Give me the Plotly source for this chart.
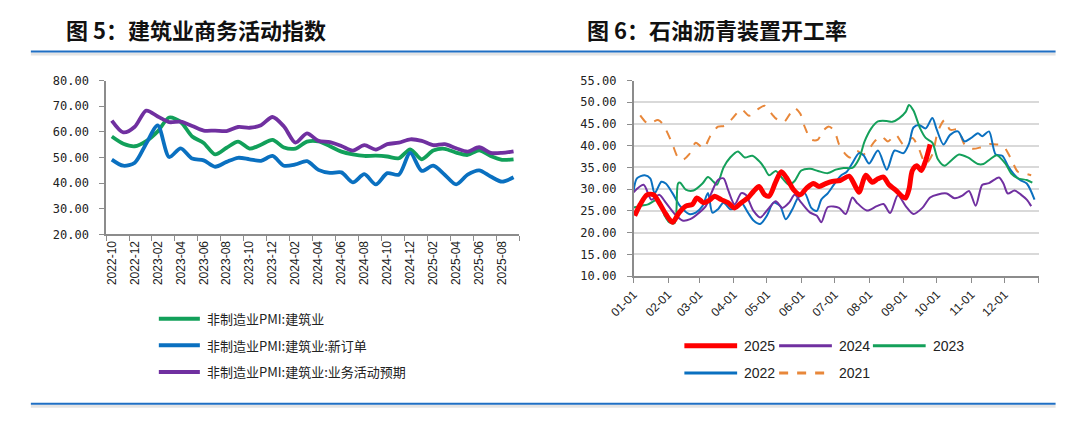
import plotly.graph_objects as go

W, H = 1080, 437

# ---------------- Left chart data (monthly) ----------------
months = ["2022-10", "2022-11", "2022-12", "2023-01", "2023-02", "2023-03", "2023-04",
          "2023-05", "2023-06", "2023-07", "2023-08", "2023-09", "2023-10", "2023-11",
          "2023-12", "2024-01", "2024-02", "2024-03", "2024-04", "2024-05", "2024-06",
          "2024-07", "2024-08", "2024-09", "2024-10", "2024-11", "2024-12", "2025-01",
          "2025-02", "2025-03", "2025-04", "2025-05", "2025-06", "2025-07", "2025-08",
          "2025-09"]
pmi_construction = [58.2, 55.4, 54.4, 56.4, 60.2, 65.6, 63.9, 58.2, 55.7, 51.2, 53.8, 56.2,
                    53.5, 55.0, 56.9, 53.9, 53.5, 56.2, 56.3, 54.4, 52.3, 51.2, 50.6, 50.7,
                    50.4, 49.7, 53.2, 49.3, 52.7, 53.4, 51.9, 51.0, 52.8, 50.6, 49.1, 49.3]
pmi_new_orders = [49.2, 46.8, 48.0, 55.5, 62.5, 50.2, 53.6, 49.6, 48.9, 46.4, 48.3, 49.9,
                  49.3, 48.7, 50.6, 46.8, 47.3, 48.6, 45.2, 44.0, 44.2, 40.3, 43.5, 39.5,
                  43.9, 43.3, 51.8, 44.8, 46.8, 43.3, 39.5, 43.3, 45.0, 42.6, 40.6, 42.3]
pmi_expectation = [64.4, 59.8, 62.0, 68.3, 66.0, 63.8, 64.0, 62.3, 60.5, 60.5, 60.3, 61.9,
                   61.6, 62.6, 65.8, 62.1, 55.8, 59.4, 56.5, 56.0, 54.5, 52.7, 54.8, 53.1,
                   55.2, 55.8, 57.1, 56.5, 54.8, 55.2, 53.6, 52.3, 54.0, 51.8, 51.8, 52.4]
left_names = ["非制造业PMI:建筑业", "非制造业PMI:建筑业:新订单", "非制造业PMI:建筑业:业务活动预期"]
left_colors = ["#12A05A", "#0A70C0", "#7030A0"]
left_ticks = [20, 30, 40, 50, 60, 70, 80]

# ---------------- Right chart data (weekly, month-day) ----------------
md_2021 = ["01-07", "01-14", "01-23", "01-27", "02-04", "02-10", "02-14", "02-20", "02-26",
           "03-05", "03-11", "03-18", "03-24", "03-31", "04-08", "04-15", "04-24", "04-29",
           "05-03", "05-09", "05-16", "05-22", "05-26", "05-31", "06-04", "06-10", "06-16",
           "06-20", "06-26", "07-01", "07-05", "07-11", "07-15", "07-21", "07-27", "08-02",
           "08-06", "08-12", "08-18", "08-25", "09-01", "09-09", "09-15", "09-21", "09-27",
           "10-02", "10-08", "10-13", "10-20", "10-26", "11-02", "11-09", "11-17", "11-24",
           "11-30", "12-07", "12-13", "12-19", "12-25"]
v_2021 = [47.0, 45.1, 45.9, 45.1, 41.0, 37.3, 36.7, 38.0, 40.7,
          39.4, 42.2, 44.4, 44.6, 46.3, 48.4, 46.9, 48.6, 49.2,
          48.1, 46.3, 45.4, 47.4, 48.7, 47.4, 44.4, 41.4, 41.4,
          43.3, 44.4, 43.3, 40.3, 38.0, 37.3, 38.8, 38.0, 39.6,
          41.0, 42.2, 41.0, 42.5, 40.3, 41.8, 39.2, 35.8, 38.0,
          43.3, 45.9, 43.7, 43.7, 40.3, 39.3, 39.6, 40.4, 40.3,
          39.9, 36.9, 34.0, 33.6, 33.2]

md_2022 = ["01-01", "01-04", "01-11", "01-16", "01-20", "01-26", "01-30", "02-05", "02-12",
           "02-20", "02-26", "03-04", "03-09", "03-13", "03-18", "03-23", "03-29", "04-03",
           "04-08", "04-14", "04-19", "04-25", "05-01", "05-07", "05-13", "05-18", "05-24",
           "05-29", "06-04", "06-10", "06-15", "06-19", "06-25", "07-01", "07-07", "07-12",
           "07-17", "07-23", "07-27", "08-01", "08-09", "08-17", "08-24", "09-01", "09-06",
           "09-10", "09-15", "09-21", "09-27", "10-01", "10-07", "10-13", "10-20", "10-26",
           "11-01", "11-07", "11-11", "11-17", "11-23", "11-29", "12-04", "12-09", "12-15",
           "12-21", "12-28"]
v_2022 = [29.5, 32.5, 33.2, 32.5, 29.1, 31.7, 31.3, 29.1, 26.1,
          24.3, 24.6, 26.1, 29.1, 24.6, 25.4, 26.9, 25.4, 25.7,
          26.9, 24.6, 22.8, 22.0, 23.9, 26.9, 26.1, 23.1, 25.4,
          28.0, 29.1, 25.7, 25.0, 27.6, 29.1, 31.3, 33.2, 34.0,
          36.0, 38.3, 37.8, 35.9, 38.9, 34.5, 38.9, 38.3, 40.5,
          44.2, 44.8, 44.0, 46.4, 43.7, 40.3, 42.5, 43.3, 41.0,
          41.8, 42.9, 42.2, 43.3, 38.0, 37.7, 35.4, 33.6, 32.1,
          31.3, 27.6]

md_2023 = ["01-01", "01-08", "01-14", "01-23", "01-29", "02-02", "02-07", "02-10", "02-12",
           "02-17", "02-24", "03-04", "03-09", "03-14", "03-17", "03-23", "03-29", "04-05",
           "04-11", "04-18", "04-25", "04-29", "05-03", "05-09", "05-15", "05-21", "05-26",
           "06-01", "06-09", "06-16", "06-25", "07-02", "07-09", "07-17", "07-23", "07-28",
           "08-03", "08-09", "08-17", "08-22", "08-28", "09-03", "09-06", "09-10", "09-16",
           "09-21", "09-27", "10-02", "10-08", "10-14", "10-21", "10-29", "11-07", "11-12",
           "11-18", "11-24", "12-02", "12-07", "12-13", "12-21", "12-26"]
v_2023 = [25.8, 26.2, 26.5, 27.6, 23.9, 22.4, 22.2, 31.3, 31.5,
          29.9, 29.7, 31.3, 32.8, 31.7, 31.0, 35.0, 37.3, 38.7,
          37.3, 37.7, 36.2, 34.8, 33.2, 34.2, 32.5, 31.0, 31.9,
          34.3, 34.7, 34.2, 33.7, 34.5, 34.9, 34.9, 37.0, 41.0,
          44.0, 45.6, 45.7, 45.5, 46.3, 47.8, 49.4, 48.1, 44.0,
          41.8, 40.7, 36.9, 35.4, 36.6, 38.0, 37.3, 35.8, 35.8,
          36.9, 37.8, 35.8, 33.6, 32.5, 32.1, 31.5]

md_2024 = ["01-01", "01-10", "01-17", "01-24", "01-30", "02-07", "02-14", "02-21", "03-01",
           "03-07", "03-12", "03-18", "03-23", "03-27", "04-02", "04-08", "04-12", "04-19",
           "04-25", "05-03", "05-09", "05-15", "05-21", "05-26", "06-01", "06-09", "06-15",
           "06-19", "06-25", "07-05", "07-11", "07-17", "07-21", "07-30", "08-08", "08-14",
           "08-20", "08-27", "09-03", "09-10", "09-18", "09-25", "10-02", "10-10", "10-17",
           "10-24", "10-30", "11-05", "11-11", "11-17", "11-26", "11-30", "12-04", "12-10",
           "12-16", "12-21", "12-25"]
v_2024 = [29.3, 31.0, 27.6, 28.7, 26.9, 24.3, 22.8, 23.1, 24.6,
          26.1, 29.1, 32.1, 32.5, 29.9, 26.5, 29.1, 28.7, 25.0,
          23.5, 25.7, 27.2, 25.7, 26.9, 28.7, 26.9, 24.6, 23.9,
          22.4, 25.9, 25.7, 24.3, 28.1, 26.9, 25.1, 26.1, 26.6,
          24.5, 28.6, 26.1, 24.3, 25.7, 28.1, 28.8, 29.0, 27.9,
          28.5, 29.6, 26.2, 31.0, 31.4, 32.7, 31.3, 29.0, 29.7,
          28.7, 27.6, 26.1]

md_2025 = ["01-02", "01-07", "01-13", "01-19", "01-24", "01-30", "02-05", "02-11", "02-17",
           "02-23", "02-27", "03-05", "03-11", "03-15", "03-21", "03-27", "04-02", "04-08",
           "04-14", "04-19", "04-24", "04-29", "05-03", "05-09", "05-14", "05-19", "05-25",
           "05-31", "06-06", "06-12", "06-17", "06-23", "06-29", "07-06", "07-14", "07-19",
           "07-23", "07-29", "08-04", "08-09", "08-14", "08-19", "08-25", "08-31", "09-03",
           "09-06", "09-09", "09-13", "09-17", "09-21", "09-25"]
v_2025 = [23.9, 26.5, 28.7, 28.7, 26.9, 24.3, 22.4, 24.6, 26.1,
          26.5, 28.0, 26.9, 27.6, 28.4, 27.6, 26.9, 25.7, 26.9,
          28.0, 29.5, 30.6, 28.7, 28.4, 31.7, 34.0, 32.5, 29.9,
          28.7, 30.3, 31.3, 30.6, 31.3, 31.8, 32.0, 33.0, 31.0,
          29.3, 33.2, 31.6, 32.4, 32.8, 31.0, 29.8, 28.3, 28.0,
          30.0, 34.3, 35.4, 34.3, 36.6, 40.3]

right_series = [
    ("2021", md_2021, v_2021),
    ("2022", md_2022, v_2022),
    ("2023", md_2023, v_2023),
    ("2024", md_2024, v_2024),
    ("2025", md_2025, v_2025),
]
right_styles = {
    "2025": dict(color="#FF0000", width=5),
    "2024": dict(color="#7030A0", width=2),
    "2023": dict(color="#14A05A", width=2),
    "2022": dict(color="#0A70C0", width=2),
    "2021": dict(color="#E8873A", width=2, dash="dash"),
}
month_labels = ["01-01", "02-01", "03-01", "04-01", "05-01", "06-01",
                "07-01", "08-01", "09-01", "10-01", "11-01", "12-01"]
right_ticks = [10, 15, 20, 25, 30, 35, 40, 45, 50, 55]
BASE = "2021-"


def px(x):
    return x / W


def py(y):
    return 1 - y / H


AXC = "#8c8c8c"
TICKFONT = dict(family="DejaVu Sans Mono", size=12, color="#222222")
XFONT = dict(family="Liberation Sans, Arial", size=12, color="#222222")

fig = go.Figure()

# Left traces
xi = list(range(len(months)))
for name, vals, col in zip(left_names, [pmi_construction, pmi_new_orders, pmi_expectation], left_colors):
    fig.add_trace(go.Scatter(x=xi, y=vals, name=name, mode="lines", xaxis="x", yaxis="y",
                             line=dict(color=col, width=3.8, shape="spline", smoothing=0.8),
                             showlegend=False, hoverinfo="skip"))

# Right traces
for name, mds, vals in right_series:
    st = right_styles[name]
    fig.add_trace(go.Scatter(x=[BASE + d for d in mds], y=vals, name=name, mode="lines",
                             xaxis="x2", yaxis="y2",
                             line=dict(shape="spline", smoothing=0.8, **st),
                             showlegend=False, hoverinfo="skip"))

left_tickvals = xi[::2]
left_minor = [v - 0.5 for v in left_tickvals] + [xi[-1] + 0.5]
right_tickvals = [BASE + m for m in month_labels] + ["2022-01-01"]

fig.update_layout(
    width=W, height=H, autosize=False,
    margin=dict(l=0, r=0, t=0, b=0),
    paper_bgcolor="white", plot_bgcolor="white",
    xaxis=dict(domain=[px(83), px(506)], range=[-0.5, len(months) - 0.5], anchor="y",
               tickmode="array", tickvals=left_tickvals,
               ticktext=[months[i] for i in left_tickvals], tickangle=-90,
               ticks="", showline=True, linecolor=AXC, linewidth=1.5, showgrid=False,
               zeroline=False, tickfont=XFONT,
               minor=dict(tickmode="array", tickvals=left_minor, ticks="outside",
                          ticklen=5, tickcolor=AXC, tickwidth=1.2, showgrid=False)),
    yaxis=dict(domain=[py(235), py(76)], range=[20, 80], anchor="x",
               tickmode="array", tickvals=left_ticks, tickformat=".2f",
               ticks="outside", ticklen=5, tickcolor=AXC, tickwidth=1.2,
               showline=True, linecolor=AXC, linewidth=1.5, showgrid=False,
               zeroline=False, tickfont=TICKFONT, ticklabelstandoff=8),
    xaxis2=dict(domain=[px(623), px(1038)], type="date",
                range=[BASE + "01-01", "2022-01-01"], anchor="y2",
                tickmode="array", tickvals=right_tickvals, ticktext=month_labels + [""],
                tickangle=-45, ticks="outside", ticklen=5, tickcolor=AXC, tickwidth=1.2,
                showline=True, linecolor=AXC, linewidth=1.5, showgrid=False,
                zeroline=False, tickfont=XFONT),
    yaxis2=dict(domain=[py(278), py(76)], range=[10, 55], anchor="x2",
                tickmode="array", tickvals=right_ticks, tickformat=".2f",
                ticks="outside", ticklen=5, tickcolor=AXC, tickwidth=1.2,
                showline=True, linecolor=AXC, linewidth=1.5,
                showgrid=True, gridcolor="#d9d9d9", gridwidth=1.5,
                zeroline=False, tickfont=TICKFONT, ticklabelstandoff=8),
)

shapes = []
annots = []

# Title rules (top and bottom) with faint shadow
for yline in (46, 410):
    shapes.append(dict(type="line", xref="paper", yref="paper", x0=px(6), x1=px(1055),
                       y0=py(yline + 2.5), y1=py(yline + 2.5),
                       line=dict(color="#e4e4e4", width=3)))
    shapes.append(dict(type="line", xref="paper", yref="paper", x0=px(6), x1=px(1055),
                       y0=py(yline), y1=py(yline), line=dict(color="#1F6FC4", width=2)))

# Titles
TFONT = dict(family="Noto Sans CJK SC", size=22, color="#111111", weight="bold")
annots.append(dict(text="图 5：建筑业商务活动指数", xref="paper", yref="paper",
                   x=px(40), y=py(23), xanchor="left", yanchor="middle",
                   showarrow=False, font=TFONT))
annots.append(dict(text="图 6：石油沥青装置开工率", xref="paper", yref="paper",
                   x=px(573), y=py(23), xanchor="left", yanchor="middle",
                   showarrow=False, font=TFONT))

# Left legend (manual)
LFONT = dict(family="Noto Sans CJK SC", size=13, color="#222222")
for k, (name, col) in enumerate(zip(left_names, left_colors)):
    yy = 322 + k * 27.5
    shapes.append(dict(type="line", xref="paper", yref="paper", x0=px(137), x1=px(179),
                       y0=py(yy), y1=py(yy), line=dict(color=col, width=4)))
    annots.append(dict(text=name, xref="paper", yref="paper", x=px(184), y=py(yy),
                       xanchor="left", yanchor="middle", showarrow=False, font=LFONT))

# Right legend (manual)
RFONT = dict(family="Liberation Sans, Arial", size=14, color="#222222")
legend_order = ["2025", "2024", "2023", "2022", "2021"]
legend_pos = {"2025": (675, 350), "2024": (772, 350), "2023": (868, 350),
              "2022": (675, 378), "2021": (772, 378)}
for name in legend_order:
    x0, yy = legend_pos[name]
    st = right_styles[name]
    shapes.append(dict(type="line", xref="paper", yref="paper", x0=px(x0), x1=px(x0 + 54),
                       y0=py(yy), y1=py(yy),
                       line=dict(color=st["color"], width=st["width"] if name == "2025" else 3,
                                 dash=st.get("dash", "solid"))))
    annots.append(dict(text=name, xref="paper", yref="paper", x=px(x0 + 59), y=py(yy),
                       xanchor="left", yanchor="middle", showarrow=False, font=RFONT))

fig.update_layout(shapes=shapes, annotations=annots)
# remove the default page margin so the figure fills the window exactly
fig.write_html("out.html",
               config={"displayModeBar": False},
               post_script="document.documentElement.style.margin='0';"
                           "document.body.style.margin='0';"
                           "document.body.style.overflow='hidden';")
